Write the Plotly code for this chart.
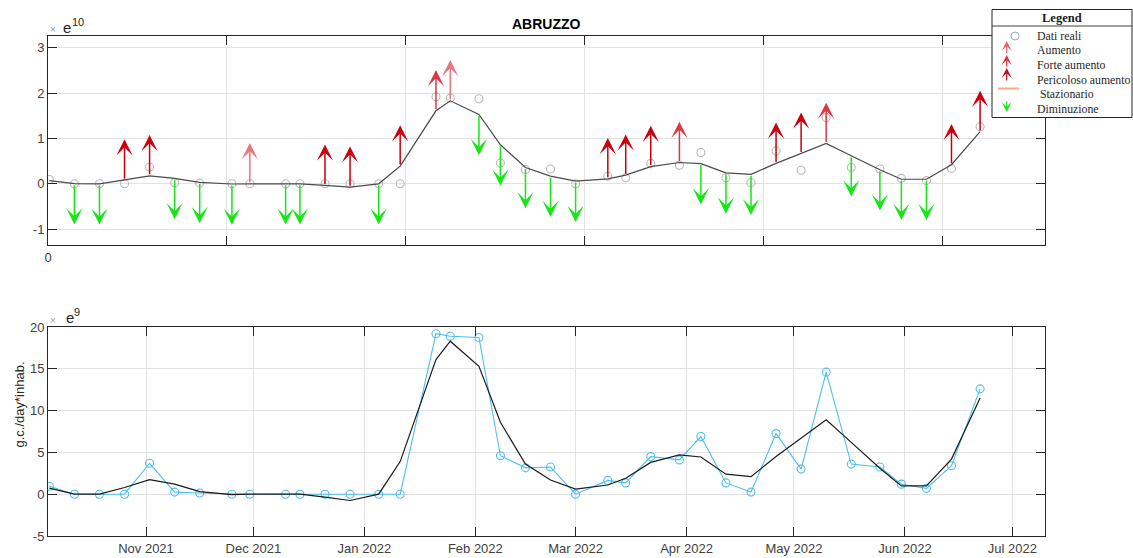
import plotly.graph_objects as go
import pandas as pd

# ---------------- data ----------------
sample_dates = [
    "2021-10-05", "2021-10-12", "2021-10-19", "2021-10-26", "2021-11-02",
    "2021-11-09", "2021-11-16", "2021-11-25", "2021-11-30", "2021-12-10",
    "2021-12-14", "2021-12-21", "2021-12-28", "2022-01-05", "2022-01-11",
    "2022-01-21", "2022-01-25", "2022-02-02", "2022-02-08", "2022-02-15",
    "2022-02-22", "2022-03-01", "2022-03-10", "2022-03-15", "2022-03-22",
    "2022-03-30", "2022-04-05", "2022-04-12", "2022-04-19", "2022-04-26",
    "2022-05-03", "2022-05-10", "2022-05-17", "2022-05-25", "2022-05-31",
    "2022-06-07", "2022-06-14", "2022-06-22",
]
# real values, g.c./day*inhab. in units of 1e9
real_e9 = [
    0.95, 0.0, 0.0, 0.0, 3.7,
    0.25, 0.15, 0.0, 0.0, 0.0,
    0.0, 0.0, 0.0, 0.0, 0.0,
    19.2, 18.9, 18.75, 4.6, 3.15,
    3.25, 0.0, 1.65, 1.35, 4.5,
    4.1, 6.9, 1.35, 0.25, 7.25,
    3.0, 14.6, 3.6, 3.25, 1.2,
    0.7, 3.4, 12.6,
]
# smoothed trend, units of 1e9
smooth_e9 = [
    0.72, 0.02, 0.0, 0.8, 1.75,
    1.2, 0.3, -0.05, 0.0, 0.0,
    0.0, -0.35, -0.75, 0.0, 3.9,
    16.1, 18.3, 15.3, 8.6, 3.6,
    1.7, 0.6, 1.1, 1.9, 3.8,
    4.7, 4.45, 2.4, 2.1, 4.5,
    6.7, 8.9, 6.2, 3.1, 1.0,
    1.0, 4.2, 11.5,
]
# trend class per sample: N none, D diminuzione, A aumento, F forte aumento, P pericoloso aumento
trend = [
    "N", "D", "D", "P", "P",
    "D", "D", "D", "A", "D",
    "D", "P", "P", "D", "P",
    "F", "A", "D", "D", "D",
    "D", "D", "P", "P", "P",
    "F", "D", "D", "D", "P",
    "P", "F", "D", "D", "D",
    "D", "P", "P",
]
month_ticks = ["2021-11-01", "2021-12-01", "2022-01-01", "2022-02-01", "2022-03-01",
               "2022-04-01", "2022-05-01", "2022-06-01", "2022-07-01"]
month_labels = ["Nov 2021", "Dec 2021", "Jan 2022", "Feb 2022", "Mar 2022",
                "Apr 2022", "May 2022", "Jun 2022", "Jul 2022"]
top_yticks = [-1, 0, 1, 2, 3]
bot_yticks = [-5, 0, 5, 10, 15, 20]

legend_labels = ["Dati reali", "Aumento", "Forte aumento", "Pericoloso aumento",
                 " Stazionario", "Diminuzione"]

# ---------------- styles ----------------
X_START = pd.Timestamp("2021-10-04 15:00")
X_END = pd.Timestamp("2022-07-10 03:00")
TOP_TICK_STEP = 50  # days
ARROW_LEN = 0.9     # arrow length in top-axis units (1e10)
ARROW_COL = {"D": "#16e616", "A": "#e8777c", "F": "#d83a45", "P": "#c8000f"}

W, H = 1133, 558
L, R, T, B = 48, 1045, 36, 536


def px(x):
    return (x - L) / (R - L)


def py(y):
    return (B - y) / (B - T)


AX_COL = "#262626"
TICK_FONT = dict(family="Liberation Sans, Arial, sans-serif", size=13, color="#404040")
SERIF = "Liberation Serif, Times New Roman, serif"

top_real = [v / 10 for v in real_e9]
top_smooth = [v / 10 for v in smooth_e9]

fig = go.Figure()

# top panel
fig.add_trace(go.Scatter(x=sample_dates, y=top_real, mode="markers", xaxis="x", yaxis="y",
                         marker=dict(symbol="circle-open", size=8, color="#b8b8b8",
                                     line=dict(width=1.1, color="#b8b8b8")),
                         showlegend=False, hoverinfo="skip"))
fig.add_trace(go.Scatter(x=sample_dates, y=top_smooth, mode="lines", xaxis="x", yaxis="y",
                         line=dict(color="#4a4a4a", width=1.2), showlegend=False))

# bottom panel
fig.add_trace(go.Scatter(x=sample_dates, y=real_e9, mode="lines+markers", xaxis="x2", yaxis="y2",
                         line=dict(color="#4dbeee", width=1.1),
                         marker=dict(symbol="circle-open", size=8, color="#4dbeee",
                                     line=dict(width=1.1, color="#4dbeee")),
                         showlegend=False))
fig.add_trace(go.Scatter(x=sample_dates, y=smooth_e9, mode="lines", xaxis="x2", yaxis="y2",
                         line=dict(color="#1a1a1a", width=1.2), showlegend=False))

annotations = []
# trend arrows on top panel
for d, s, t in zip(sample_dates, top_smooth, trend):
    if t == "N":
        continue
    tip = s - ARROW_LEN if t == "D" else s + ARROW_LEN
    annotations.append(dict(x=d, y=tip, ax=d, ay=s, xref="x", yref="y", axref="x", ayref="y",
                            text="", showarrow=True, arrowhead=3, arrowsize=1.8, arrowwidth=1.5,
                            arrowcolor=ARROW_COL[t], standoff=0, startstandoff=0))

top_tickvals = [(X_START + pd.Timedelta(days=TOP_TICK_STEP * k)).strftime("%Y-%m-%d %H:%M")
                for k in range(6)]
top_ticktext = ["0", "", "", "", "", ""]

common = dict(showline=True, linecolor=AX_COL, linewidth=1, mirror="ticks", ticks="inside",
              ticklen=9, tickcolor=AX_COL, tickwidth=1, showgrid=True, gridcolor="#e3e3e3",
              gridwidth=1, zeroline=False, tickfont=TICK_FONT)

rng = [X_START.strftime("%Y-%m-%d %H:%M"), X_END.strftime("%Y-%m-%d %H:%M")]

fig.update_layout(
    width=W, height=H,
    margin=dict(l=L, r=W - R, t=T, b=H - B, autoexpand=False),
    paper_bgcolor="white", plot_bgcolor="white",
    showlegend=False,
    xaxis=dict(common, type="date", range=rng, tickmode="array", tickvals=top_tickvals,
               ticktext=top_ticktext, anchor="y", domain=[0, 1]),
    yaxis=dict(common, range=[-1.35, 3.26], tickmode="array", tickvals=top_yticks,
               ticktext=[str(v) for v in top_yticks], anchor="x", domain=[py(245), 1]),
    xaxis2=dict(common, type="date", range=rng, tickmode="array", tickvals=month_ticks,
                ticktext=month_labels, anchor="y2", domain=[0, 1]),
    yaxis2=dict(common, range=[-5, 20], tickmode="array", tickvals=bot_yticks,
                ticktext=[str(v) for v in bot_yticks], anchor="x2", domain=[0, py(327)]),
)


def ann(text, x, y, size=13, color="#262626", family="Liberation Sans, Arial, sans-serif",
        xanchor="center", yanchor="middle", **kw):
    annotations.append(dict(text=text, x=px(x), y=py(y), xref="paper", yref="paper",
                            showarrow=False, xanchor=xanchor, yanchor=yanchor,
                            font=dict(size=size, color=color, family=family), **kw))


# title
ann("<b>ABRUZZO</b>", 546.5, 24, size=14, color="#000000")
# exponent labels
ann("×", 52.5, 29.5, size=10, color="#9a9a9a")
ann("e", 66.5, 28, size=15)
ann("10", 78, 22, size=11)
ann("×", 53.3, 320, size=10, color="#9a9a9a")
ann("e", 70, 317.5, size=15)
ann("9", 77, 312.5, size=11)
# y title
ann("g.c./day*inhab.", 18.5, 405, size=13, textangle=-90)

# legend box
shapes = [
    dict(type="rect", xref="paper", yref="paper", x0=px(992), x1=px(1132), y0=py(117.5), y1=py(9.5),
         line=dict(color=AX_COL, width=1), fillcolor="white", layer="above"),
    dict(type="line", xref="paper", yref="paper", x0=px(992), x1=px(1132), y0=py(26), y1=py(26),
         line=dict(color="#404040", width=1), layer="above"),
    dict(type="circle", xref="paper", yref="paper", x0=px(1011), x1=px(1019), y0=py(40), y1=py(32),
         line=dict(color="#a8a8a8", width=1), layer="above"),
    dict(type="line", xref="paper", yref="paper", x0=px(998), x1=px(1019), y0=py(88.5), y1=py(88.5),
         line=dict(color="#ffa98a", width=2), layer="above"),
]
ann("<b>Legend</b>", 1062, 18, size=12.5, color="#1a1a1a", family=SERIF)
leg_y = [36, 50, 65, 80, 94, 109]
for lab, yy in zip(legend_labels, leg_y):
    ann(lab, 1034.5, yy, size=11.8, color="#262626", family=SERIF, xanchor="left")

leg_arrows = [("A", 41, 14), ("F", 55, 13), ("P", 68, 14)]
leg_cols = {"A": "#e8606a", "F": "#dd3340", "P": "#b8101c"}
for k, tip_y, ln in leg_arrows:
    annotations.append(dict(x=px(1006.7), y=py(tip_y), xref="paper", yref="paper", ax=0, ay=ln,
                            text="", showarrow=True, arrowhead=3, arrowsize=1.4, arrowwidth=1.2,
                            arrowcolor=leg_cols[k], standoff=0, startstandoff=0))
annotations.append(dict(x=px(1006.7), y=py(112), xref="paper", yref="paper", ax=0, ay=-12,
                        text="", showarrow=True, arrowhead=3, arrowsize=1.4, arrowwidth=1.2,
                        arrowcolor=ARROW_COL["D"], standoff=0, startstandoff=0))

fig.update_layout(annotations=annotations, shapes=shapes)

fig.write_html("out.html", config={"displayModeBar": False},
               post_script="document.body.style.margin='0';document.body.style.overflow='hidden';")
